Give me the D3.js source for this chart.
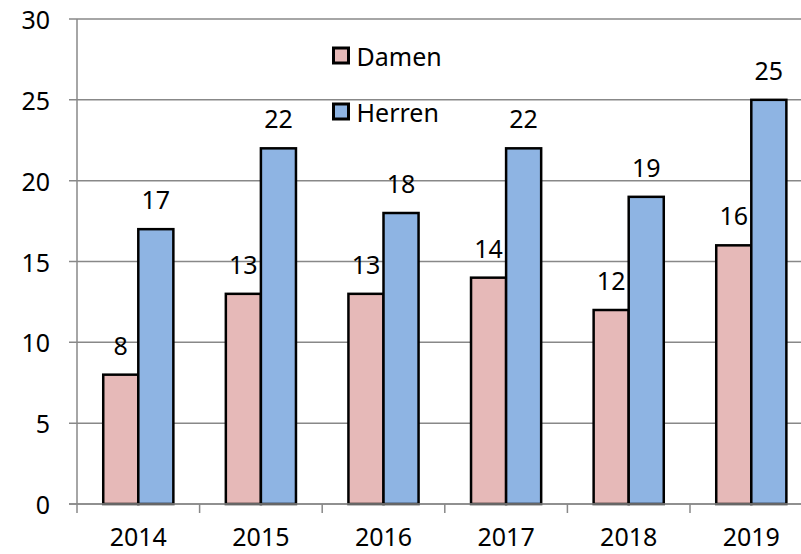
<!DOCTYPE html>
<html>
<head>
<meta charset="utf-8">
<script src="https://cdn.jsdelivr.net/npm/d3@7"></script>
<style>
  body { margin: 0; background: #fff; }
  text { font-family: "Noto Sans", sans-serif; }
</style>
</head>
<body>
<div id="chart"></div>
<script>
const years = ["2014", "2015", "2016", "2017", "2018", "2019"];
const damen = [8, 13, 13, 14, 12, 16];
const herren = [17, 22, 18, 22, 19, 25];
const seriesNames = ["Damen", "Herren"];
const seriesColors = ["#E6B9B8", "#8EB4E3"];
const yTicks = [0, 5, 10, 15, 20, 25, 30];

const width = 801;
const height = 554;
const plotLeft = 77;
const plotTop = 19;
const plotBottom = 504;
const fontSize = "25px";

const svg = d3.select("#chart").append("svg")
  .attr("width", width)
  .attr("height", height);

// band is wider than the window on purpose, the last group gets clipped at the edge
const x = d3.scaleBand().domain(years).range([plotLeft, plotLeft + 6 * 122.6]);
const y = d3.scaleLinear().domain([0, 30]).range([plotBottom, plotTop]);
const barW = x.bandwidth() * 0.286;

// gridlines
svg.append("g").selectAll("line")
  .data(yTicks)
  .enter().append("line")
  .attr("x1", plotLeft - 8).attr("x2", width)
  .attr("y1", d => y(d)).attr("y2", d => y(d))
  .attr("stroke", "#888").attr("stroke-width", 1.5);

// y tick labels
svg.append("g").selectAll("text")
  .data(yTicks)
  .enter().append("text")
  .attr("x", 50).attr("y", d => y(d))
  .attr("text-anchor", "end")
  .attr("dominant-baseline", "central")
  .attr("font-size", fontSize)
  .text(d => d);

const series = [damen, herren];
series.forEach((vals, s) => {
  const g = svg.append("g");
  g.selectAll("rect")
    .data(vals)
    .enter().append("rect")
    .attr("x", (d, i) => x(years[i]) + x.bandwidth() / 2 + (s - 1) * barW)
    .attr("y", d => y(d))
    .attr("width", barW)
    .attr("height", d => plotBottom - y(d))
    .attr("fill", seriesColors[s])
    .attr("stroke", "#000")
    .attr("stroke-width", 2.5);
  g.selectAll("text")
    .data(vals)
    .enter().append("text")
    .attr("x", (d, i) => x(years[i]) + x.bandwidth() / 2 + (s - 0.5) * barW)
    .attr("y", d => y(d) - 30)
    .attr("text-anchor", "middle")
    .attr("dominant-baseline", "central")
    .attr("font-size", fontSize)
    .text(d => d);
});

// axes
svg.append("line")
  .attr("x1", plotLeft).attr("x2", plotLeft)
  .attr("y1", plotTop).attr("y2", plotBottom)
  .attr("stroke", "#888").attr("stroke-width", 1.5);
svg.append("line")
  .attr("x1", plotLeft - 8).attr("x2", width)
  .attr("y1", plotBottom).attr("y2", plotBottom)
  .attr("stroke", "#888").attr("stroke-width", 1.5);
svg.append("g").selectAll("line")
  .data(years)
  .enter().append("line")
  .attr("x1", d => x(d)).attr("x2", d => x(d))
  .attr("y1", plotBottom).attr("y2", plotBottom + 9)
  .attr("stroke", "#888").attr("stroke-width", 1.5);
// baseline kept high enough that the descent stays inside the picture
svg.append("g").selectAll("text")
  .data(years)
  .enter().append("text")
  .attr("x", d => x(d) + x.bandwidth() / 2)
  .attr("y", 546)
  .attr("text-anchor", "middle")
  .attr("font-size", fontSize)
  .text(d => d);

// legend
const legend = svg.append("g").selectAll("g")
  .data(seriesNames)
  .enter().append("g")
  .attr("transform", (d, i) => "translate(333.5," + (55.5 + i * 56) + ")");
legend.append("rect")
  .attr("x", 0).attr("y", -7.5)
  .attr("width", 15).attr("height", 15)
  .attr("fill", (d, i) => seriesColors[i])
  .attr("stroke", "#000").attr("stroke-width", 3);
legend.append("text")
  .attr("x", 23).attr("y", 0)
  .attr("dominant-baseline", "central")
  .attr("font-size", fontSize)
  .text(d => d);
</script>
</body>
</html>
